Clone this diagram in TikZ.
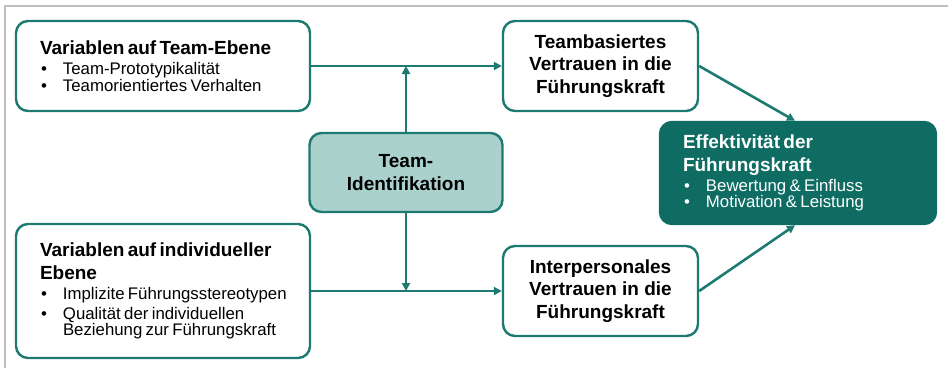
\documentclass[tikz,border=0pt]{standalone}
\usepackage{fontspec}
\setmainfont{Liberation Sans}
\usetikzlibrary{arrows.meta}
\definecolor{tealline}{RGB}{28,122,113}
\definecolor{tealdark}{RGB}{14,108,99}
\definecolor{teallight}{RGB}{170,209,204}
\newcommand\headf{\fontsize{19}{22.5}\selectfont\bfseries}
\newcommand\itemf{\fontsize{16.8}{20}\selectfont}
\newcommand\itm[1]{\mbox{\makebox[23pt][l]{\hspace{1pt}\textbullet}#1}}
\begin{document}
\begin{tikzpicture}[x=1pt,y=-1pt,line join=round,
box/.style={shape=rectangle,rounded corners=12pt,draw=tealline,line width=2.4pt,fill=white,inner sep=0pt},
varbox/.style={box,text width=246pt,inner xsep=24pt,align=left,minimum height=#1},
trustbox/.style={box,minimum width=195pt,minimum height=90pt,align=center,font=\headf},
idbox/.style={box,fill=teallight,minimum width=193pt,minimum height=79pt,align=center,font=\headf},
effbox/.style={box,draw=tealdark,fill=tealdark,text=white,text width=230pt,inner xsep=23pt,align=left,minimum height=102pt},
conn/.style={draw=tealline,line width=2.6pt,-{Triangle[length=8pt,width=8pt]}},
frame/.style={draw=black!25,line width=1.3pt}]
\def\xl{163};
\def\xm{406};
\def\xr{600.5};
\def\ya{66};
\def\yb{291};

\useasboundingbox (0,0) rectangle (948,368);
\draw[frame] (5,368) -- (5,6) -- (948,6);

\node[varbox=90pt] (TeamVar) at (\xl,\ya) {{\headf Variablen auf Team-Ebene\par}\itemf
  \itm{Team-Prototypikalität}\\
  \itm{Teamorientiertes Verhalten}};
\node[varbox=134pt] (IndVar) at (\xl,\yb) {{\headf Variablen auf individueller Ebene\par}\itemf
  \itm{Implizite Führungsstereotypen}\\
  \itm{Qualität der individuellen}\\
  \hspace*{23pt}Beziehung zur Führungskraft};

\node[idbox] (TeamId) at (\xm,172.5) {Team-\\Identifikation};

\node[trustbox] (TeamTrust) at (\xr,\ya) {Teambasiertes\\Vertrauen in die\\Führungskraft};
\node[trustbox] (PersTrust) at (\xr,\yb) {Interpersonales\\Vertrauen in die\\Führungskraft};

\node[effbox] (Eff) at (798,173) {{\headf Effektivität der Führungskraft\par}\itemf
  \itm{Bewertung \& Einfluss}\\
  \itm{Motivation \& Leistung}};

\draw[conn] (TeamVar.east) -- (TeamTrust.west);
\draw[conn] (IndVar.east) -- (PersTrust.west);
\draw[conn] (TeamId.north) -- (TeamId.north |- TeamVar.east);
\draw[conn] (TeamId.south) -- (TeamId.south |- IndVar.east);
\draw[conn] (TeamTrust.east) -- ([xshift=-3pt]Eff.north);
\draw[conn] (PersTrust.east) -- ([xshift=-3pt]Eff.south);
\end{tikzpicture}
\end{document}
